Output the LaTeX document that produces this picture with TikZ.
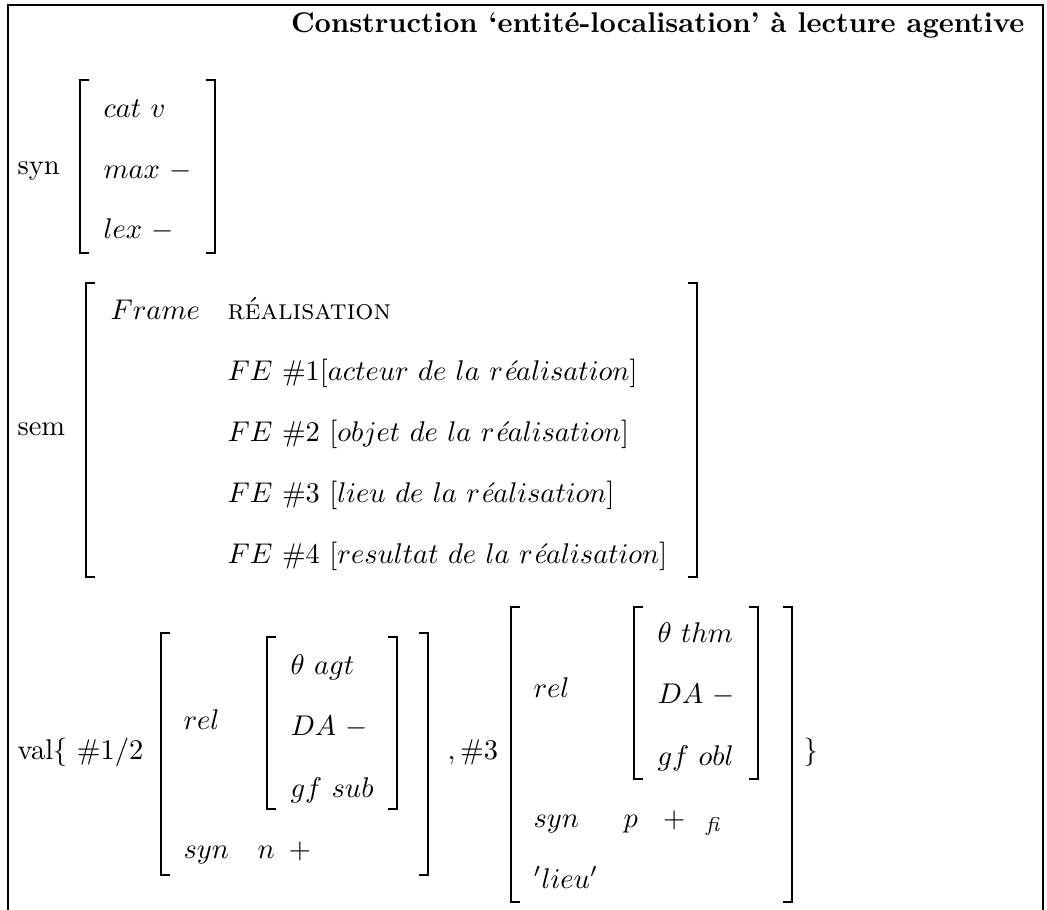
\documentclass[tikz,border=0pt]{standalone}
\usepackage{amsmath}
\usepackage{amssymb}

\begin{document}
\begin{tikzpicture}[x=0.351pt, y=-0.351pt,
        txt/.style={anchor=base west, inner sep=0pt},
        brace/.style={line width=0.7pt}]
            \useasboundingbox (0,0) rectangle (1047,910);
            \draw[line width=0.4pt] (8,910) -- (8,5) -- (1043,5) -- (1043,910);

            \node[anchor=base east, inner sep=0pt] (title) at (1025,33) {\textbf{Construction ‘entité-localisation’ à lecture agentive}};

            % syn
            \node[txt] (synlbl) at (17,175) {syn};
            \node[txt] (cat) at (103,118) {$cat\ v$};
            \node[txt] (max) at (103,179) {$max\ -$};
            \node[txt] (lex) at (103,239) {$lex\ -$};

            % sem
            \node[txt] (semlbl) at (17,436) {sem};
            \node[txt] (frame) at (110,320) {$Frame$};
            \node[txt] (real) at (227,320) {\textsc{réalisation}};
            \node[txt] (fe1) at (227,381) {$FE\ \#1[acteur\ de\ la\ r\textit{é}alisation]$};
            \node[txt] (fe2) at (227,442) {$FE\ \#2\ [objet\ de\ la\ r\textit{é}alisation]$};
            \node[txt] (fe3) at (227,503) {$FE\ \#3\ [lieu\ de\ la\ r\textit{é}alisation]$};
            \node[txt] (fe4) at (227,564) {$FE\ \#4\ [resultat\ de\ la\ r\textit{é}alisation]$};

            % val
            \node[txt] (vallbl) at (17,760) {val\{ \#1/2};
            \node[txt] (rela) at (183,730) {$rel$};
            \node[txt] (agt) at (290,675) {$\theta\ agt$};
            \node[txt] (daa) at (290,736) {$DA\ -$};
            \node[txt] (sub) at (290,797) {$gf\ sub$};
            \node[txt] (syna) at (183,858) {$syn$};
            \node[txt] (npl) at (257,858) {$n\enspace +$};
            \node[txt] (three) at (447,760) {$,\#3$};
            \node[txt] (relb) at (533,698) {$rel$};
            \node[txt] (thm) at (657,643) {$\theta\ thm$};
            \node[txt] (dab) at (657,704) {$DA\ -$};
            \node[txt] (obl) at (657,765) {$gf\ obl$};
            \node[txt] (synb) at (533,827) {$syn$};
            \node[txt] (ppl) at (623,827) {$p\ \ +\enspace{}_{\textit{fi}}$};
            \node[txt] (lieu) at (533,888) {$'lieu'$};
            \node[txt] (close) at (803,760) {\}};

            % brackets
            \foreach \xl/\xr/\yt/\yb in {80/215/80/253, 86/697/283/577,
                    161/428/633/875, 267/397/637/809,
                    511/792/607/902, 634/758/607/779}{
                \draw[brace] (\xl+9,\yt) -- (\xl,\yt) -- (\xl,\yb) -- (\xl+9,\yb);
                \draw[brace] (\xr-9,\yt) -- (\xr,\yt) -- (\xr,\yb) -- (\xr-9,\yb);
            }
        \end{tikzpicture}
\end{document}
